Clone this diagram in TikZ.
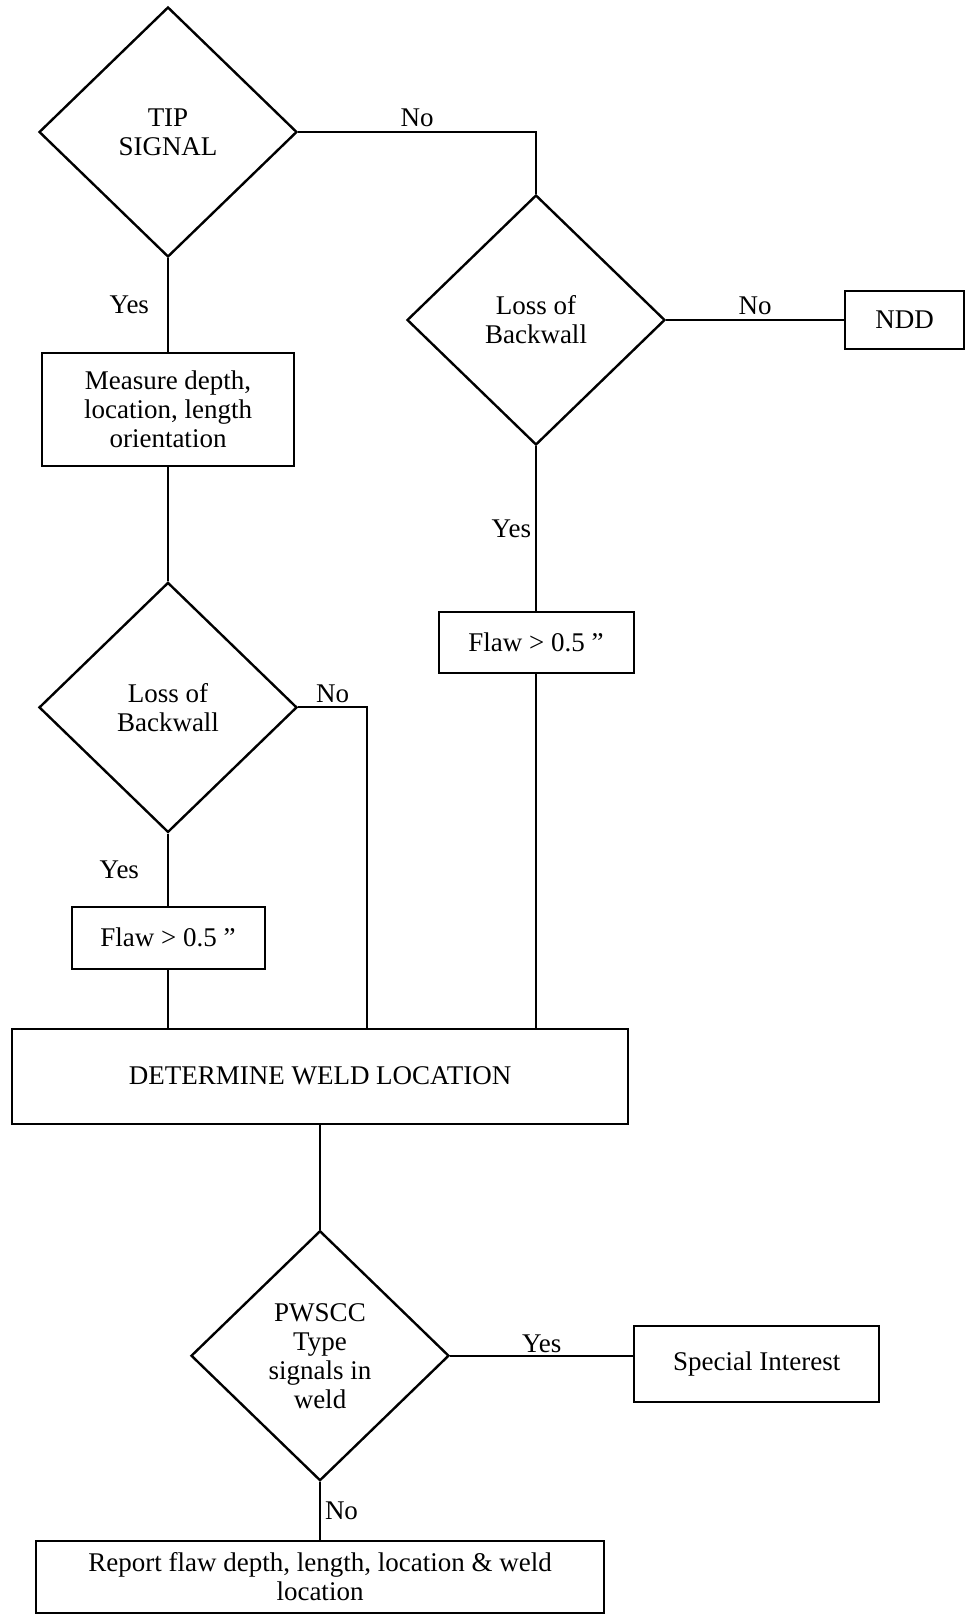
\documentclass[tikz,border=0pt]{standalone}
\usepackage{fontspec}
\setmainfont{Liberation Serif}
\usetikzlibrary{positioning,shapes.geometric}

\begin{document}
\begin{tikzpicture}[
    x=1pt, y=-1pt,
    line width=1pt,
    box/.style={rectangle, draw, line width=1pt, align=center, font=\fontsize{13.5}{14.5}\selectfont},
    decision/.style={diamond, draw, line width=1.2pt, align=center, inner sep=1pt,
      minimum width=129pt, minimum height=125pt, font=\fontsize{13.5}{14.5}\selectfont},
    lbl/.style={inner sep=2pt, font=\fontsize{13.5}{14.5}\selectfont}
    ]
    \useasboundingbox (0,0) rectangle (485.5,807.5);

    % Left column: tip signal branch
    \node[decision] (tip) at (84,66) {TIP\\SIGNAL};
    \node[box, below=47pt of tip, minimum width=126pt, minimum height=56.5pt] (measure) {Measure depth,\\location, length\\orientation};
    \node[decision, below=57pt of measure] (lossA) {Loss of\\Backwall};
    \node[box, below=36pt of lossA, minimum width=96.5pt, minimum height=31pt] (flawA) {Flaw > 0.5 ''};

    % Right column: no tip signal
    \node[decision] (lossB) at (268,160) {Loss of\\Backwall};
    \node[box, right=89pt of lossB, minimum width=59.5pt, minimum height=29pt] (ndd) {NDD};
    \node[box, below=82.5pt of lossB, minimum width=97.5pt, minimum height=30.5pt] (flawB) {Flaw > 0.5 ''};

    % Weld location and final check
    \node[box, minimum width=308pt, minimum height=47.5pt] (weld) at (160,538) {DETERMINE WELD LOCATION};
    \node[decision, below=52.5pt of weld] (pwscc) {PWSCC\\Type\\signals in\\weld};
    \node[box, right=91.5pt of pwscc, yshift=-4pt, minimum width=122.5pt, minimum height=38pt] (special) {Special Interest};
    \node[box, below=29pt of pwscc, minimum width=284pt, minimum height=36pt, inner sep=2pt] (report) {Report flaw depth, length, location \& weld\\location};

    % Connectors from the tip signal
    \draw (tip.east) -- node[lbl, above] {No} (tip.east -| lossB.north) -- (lossB.north);
    \draw (tip) -- node[lbl, left=7pt] {Yes} (measure);
    \draw (measure) -- (lossA);

    % Left loss of backwall
    \draw (lossA.east) -- node[lbl, above] {No} ++(34.5,0) coordinate (lossAno) -- (lossAno |- weld.north);
    \draw (lossA) -- node[lbl, left=12pt] {Yes} (flawA);
    \draw (flawA) -- (flawA.south |- weld.north);

    % Right loss of backwall
    \draw (lossB.east) -- node[lbl, above] {No} (ndd);
    \draw (lossB) -- node[lbl, left=0pt] {Yes} (flawB);
    \draw (flawB) -- (flawB.south |- weld.north);

    % Down to the report
    \draw (weld) -- (pwscc);
    \draw (pwscc.east) -- node[lbl, above=-1pt] {Yes} (pwscc.east -| special.west);
    \draw (pwscc) -- node[lbl, right=0pt] {No} (report);

  \end{tikzpicture}
\end{document}
